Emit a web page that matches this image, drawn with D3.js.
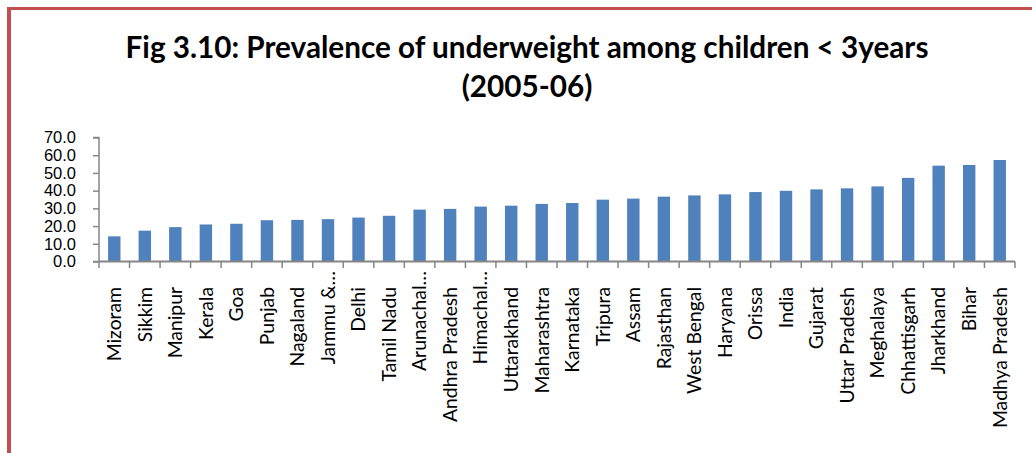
<!DOCTYPE html>
<html>
<head>
<meta charset="utf-8">
<script src="https://cdn.jsdelivr.net/npm/d3@7"></script>
<style>
  html, body { margin: 0; padding: 0; background: #fff; }
  svg { display: block; }
</style>
</head>
<body>
<svg id="chart" width="1032" height="453"></svg>
<script>
const categories = ["Mizoram","Sikkim","Manipur","Kerala","Goa","Punjab","Nagaland","Jammu &\u2026","Delhi","Tamil Nadu","Arunachal\u2026","Andhra Pradesh","Himachal\u2026","Uttarakhand","Maharashtra","Karnataka","Tripura","Assam","Rajasthan","West Bengal","Haryana","Orissa","India","Gujarat","Uttar Pradesh","Meghalaya","Chhattisgarh","Jharkhand","Bihar","Madhya Pradesh"];
const values = [14.2,17.4,19.4,20.9,21.3,23.3,23.5,23.9,24.8,25.8,29.3,29.7,31.0,31.5,32.5,33.0,34.9,35.5,36.6,37.3,37.9,39.2,39.9,40.7,41.3,42.4,47.2,54.1,54.5,57.3];
const yTicks = [0,10,20,30,40,50,60,70];
const titleLines = ["Fig 3.10: Prevalence of underweight among children < 3years","(2005-06)"];

const svg = d3.select("#chart");
const W = 1032, H = 453;

// red frame (left and top)
svg.append("line").attr("x1",9).attr("x2",9).attr("y1",7).attr("y2",H)
  .attr("stroke","#C0504D").attr("stroke-width",4);
svg.append("line").attr("x1",7).attr("x2",W).attr("y1",8.5).attr("y2",8.5)
  .attr("stroke","#C0504D").attr("stroke-width",3);

// title
const titleFont = "Lato, 'Open Sans', sans-serif";
const t1 = svg.append("text").attr("x",527).attr("y",58).attr("text-anchor","middle")
  .attr("font-family",titleFont).attr("font-weight","bold").attr("font-size",28)
  .attr("fill","#000").text(titleLines[0]);
const len1 = t1.node().getComputedTextLength();
const tSize = 28 * 803 / len1;
t1.attr("font-size", tSize);
svg.append("text").attr("x",527).attr("y",97).attr("text-anchor","middle")
  .attr("font-family",titleFont).attr("font-weight","bold").attr("font-size",tSize)
  .attr("fill","#000").text(titleLines[1]);

// scales
const xb = d3.scaleBand().domain(categories).range([99,1015]);
const y = d3.scaleLinear().domain([0,70]).range([261.5,137.5]);

// bars
svg.append("g").selectAll("rect").data(values).join("rect")
  .attr("x",(d,i)=>xb(categories[i]) + xb.bandwidth()/2 - 6.2)
  .attr("width",12.4)
  .attr("y",d=>y(d))
  .attr("height",d=>y(0)-y(d))
  .attr("fill","#4F81BD");

// y axis
const yAxis = d3.axisLeft(y).tickValues(yTicks).tickSize(6).tickPadding(17).tickFormat(d3.format(".1f"));
const gy = svg.append("g").attr("transform","translate(99,0)").call(yAxis);
gy.select(".domain").attr("stroke","#868686").attr("stroke-width",1.5).attr("d","M-6,137.5H0V261.5H-6");
gy.selectAll(".tick line").attr("stroke","#868686").attr("stroke-width",1.5);
gy.selectAll(".tick text").attr("font-family","'Liberation Sans', Arial, sans-serif").attr("font-size",16.5).attr("fill","#000");

// x axis line and ticks at band boundaries
svg.append("line").attr("x1",99).attr("x2",1015).attr("y1",261.5).attr("y2",261.5)
  .attr("stroke","#868686").attr("stroke-width",2);
const bounds = categories.map(c=>xb(c)).concat([1015]);
svg.append("g").selectAll("line").data(bounds).join("line")
  .attr("x1",d=>d).attr("x2",d=>d).attr("y1",261.5).attr("y2",268)
  .attr("stroke","#868686").attr("stroke-width",1.5);

// x labels
const labFont = "Lato, 'Open Sans', sans-serif";
const probe = svg.append("text").attr("font-family",labFont).attr("font-size",20).text("Andhra Pradesh");
const labSize = 20 * 135 / probe.node().getComputedTextLength();
probe.remove();
svg.append("g").selectAll("text").data(categories).join("text")
  .attr("transform",(d)=>{
    const cx = xb(d) + xb.bandwidth()/2;
    const top = d.endsWith("\u2026") ? 271 : 287;
    return `translate(${cx},${top}) rotate(-90)`;
  })
  .attr("dy","0.35em")
  .attr("text-anchor","end")
  .attr("font-family",labFont).attr("font-size",labSize).attr("fill","#000")
  .text(d=>d);
</script>
</body>
</html>
